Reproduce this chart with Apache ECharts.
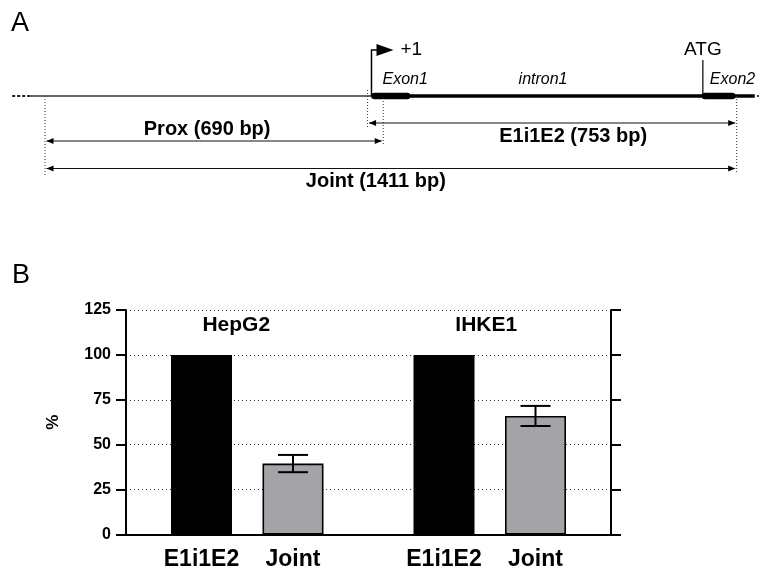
<!DOCTYPE html>
<html>
<head>
<meta charset="utf-8">
<title>E1i1E2 / Joint promoter constructs</title>
<script src="https://cdn.jsdelivr.net/npm/echarts@6/dist/echarts.min.js"></script>
<style>
  html, body { margin: 0; padding: 0; background: #fff; }
  #chart { width: 761px; height: 568px; }
</style>
</head>
<body>
<div id="chart"></div>
<script>
// ---- Panel A: construct map (coordinates in bp, 0 = 5' end of the Joint fragment)
const fragNames = ['Prox', 'E1i1E2', 'Joint'];
const fragStart = [0, 658, 0];
const fragBp = [690, 753, 1411];

const upstreamStart = -31;     // visible start of the flanking sequence
const tssBp = 666;             // transcription start (+1)
const exon1Bp = [666, 745];
const exon2Bp = [1340, 1408];
const atgBp = 1342;
const locusEndBp = 1448;

// ---- Panel B: relative activity (%)
const cellLines = ['HepG2', 'IHKE1'];
const constructs = ['E1i1E2', 'Joint'];
const e1i1e2Values = [100, 100];
const jointValues = [39.5, 66];
const jointErrors = [4.8, 5.6];
const yTicks = [0, 25, 50, 75, 100, 125];

// ---- layout and styles
const FONT = '"Liberation Sans", Arial, Helvetica, sans-serif';
const BAR_WIDTH = 61;
const BAR_GAP = 0.5;
const BAR_OFFSET = (BAR_WIDTH + BAR_WIDTH * BAR_GAP) / 2;
const GREY = '#a4a4a8';

const ROW = { gene: 96, e1i1e2: 123, prox: 141, joint: 168.5 };
const fragRow = [ROW.prox, ROW.e1i1e2, ROW.joint];
const fragLabelDy = [-12, 13, 12.5];
const fragLabelDx = [-7, 21, -15];
// dotted guides at fragment ends: [bp, yTop, yBottom]
const guides = [
  [fragStart[0], 96, 175],
  [fragStart[1], 90, 127],
  [fragStart[0] + fragBp[0], 101, 145],
  [fragStart[2] + fragBp[2], 96, 173]
];

function arrowHead(x, y, dir) {
  const len = 7, half = 3;
  return {
    type: 'polygon',
    shape: { points: [[x, y], [x - dir * len, y - half], [x - dir * len, y + half]] },
    style: { fill: '#000' }
  };
}

function txt(text, x, y, font, align) {
  return {
    type: 'text',
    style: {
      text: text, x: x, y: y, font: font, fill: '#000',
      align: align || 'center', verticalAlign: 'middle',
      textAlign: align || 'center', textVerticalAlign: 'middle'
    }
  };
}

function renderMap(params, api) {
  const X = function (bp) { return api.coord([bp, 0])[0]; };
  const c = [];
  const y0 = ROW.gene;

  // flanking sequence
  c.push({ type: 'line', shape: { x1: X(upstreamStart - 36), y1: y0, x2: X(upstreamStart), y2: y0 },
    style: { stroke: '#222', lineWidth: 2, lineDash: [3, 2] } });
  c.push({ type: 'line', shape: { x1: X(upstreamStart), y1: y0, x2: X(tssBp), y2: y0 },
    style: { stroke: '#333', lineWidth: 1.4 } });
  // transcribed region
  c.push({ type: 'line', shape: { x1: X(tssBp), y1: y0, x2: X(locusEndBp), y2: y0 },
    style: { stroke: '#000', lineWidth: 3.5 } });
  c.push({ type: 'line', shape: { x1: X(locusEndBp + 5), y1: y0, x2: X(locusEndBp + 8), y2: y0 },
    style: { stroke: '#000', lineWidth: 2 } });
  // exons
  [exon1Bp, exon2Bp].forEach(function (e) {
    c.push({ type: 'line', shape: { x1: X(e[0]) + 3, y1: y0, x2: X(e[1]) - 3, y2: y0 },
      style: { stroke: '#000', lineWidth: 6.5, lineCap: 'round' } });
  });

  // transcription start arrow
  const xt = X(tssBp);
  c.push({ type: 'polyline', shape: { points: [[xt, y0], [xt, 50], [xt + 6, 50]] },
    style: { stroke: '#000', lineWidth: 1.5, fill: null } });
  c.push({ type: 'polygon', shape: { points: [[xt + 5, 44], [xt + 22, 50], [xt + 5, 56]] },
    style: { fill: '#000' } });
  c.push(txt('+1', xt + 29, 50, '19px ' + FONT, 'left'));

  // ATG
  const xa = X(atgBp);
  c.push({ type: 'line', shape: { x1: xa, y1: 60, x2: xa, y2: y0 },
    style: { stroke: '#000', lineWidth: 1.2 } });
  c.push(txt('ATG', xa, 50, '19px ' + FONT));

  // feature names
  c.push(txt('Exon1', X(exon1Bp[0]) + 11, 80, 'italic 16px ' + FONT, 'left'));
  c.push(txt('intron1', X((exon1Bp[1] + exon2Bp[0]) / 2) - 13, 80, 'italic 16px ' + FONT));
  c.push(txt('Exon2', X(atgBp) + 7, 80, 'italic 16px ' + FONT, 'left'));

  // dotted guides
  guides.forEach(function (g) {
    c.push({ type: 'line', shape: { x1: X(g[0]), y1: g[1], x2: X(g[0]), y2: g[2] },
      style: { stroke: '#333', lineWidth: 1, lineDash: [1, 2] } });
  });

  // fragments
  fragNames.forEach(function (name, i) {
    const xs = X(fragStart[i]) + 1.5;
    const xe = X(fragStart[i] + fragBp[i]) - 1.5;
    const y = fragRow[i];
    c.push({ type: 'line', shape: { x1: xs, y1: y, x2: xe, y2: y },
      style: { stroke: '#111', lineWidth: 1.2 } });
    c.push(arrowHead(xs, y, -1));
    c.push(arrowHead(xe, y, 1));
    c.push(txt(name + ' (' + fragBp[i] + ' bp)', (xs + xe) / 2 + fragLabelDx[i],
      y + fragLabelDy[i], 'bold 20px ' + FONT));
  });

  return { type: 'group', children: c };
}

function renderErrorBars(params, api) {
  const cat = api.value(0), mean = api.value(1), err = api.value(2);
  const x = api.coord([cat, mean])[0] + BAR_OFFSET;
  const yTop = api.coord([cat, mean + err])[1];
  const yBot = api.coord([cat, mean - err])[1];
  const half = 15;
  const st = { stroke: '#000', lineWidth: 2 };
  return {
    type: 'group',
    children: [
      { type: 'line', shape: { x1: x, y1: yTop, x2: x, y2: yBot }, style: st },
      { type: 'line', shape: { x1: x - half, y1: yTop, x2: x + half, y2: yTop }, style: st },
      { type: 'line', shape: { x1: x - half, y1: yBot, x2: x + half, y2: yBot }, style: st }
    ]
  };
}

const axisLineStyle = { color: '#000', width: 2 };
const barLabel = {
  show: true, position: 'bottom', distance: 14, formatter: '{a}',
  fontFamily: FONT, fontSize: 23, fontWeight: 'bold', color: '#000'
};

const chart = echarts.init(document.getElementById('chart'), null, { renderer: 'canvas' });
chart.setOption({
  animation: false,
  backgroundColor: '#fff',
  graphic: [
    { type: 'text', left: 11, top: 10, style: { text: 'A', font: '27px ' + FONT, fill: '#000' } },
    { type: 'text', left: 12, top: 262, style: { text: 'B', font: '27px ' + FONT, fill: '#000' } }
  ],
  grid: [
    { left: 126, top: 310, width: 485, height: 224.5, containLabel: false },
    { left: 10.7, top: 0, width: 750, height: 200, containLabel: false }
  ],
  xAxis: [
    {
      type: 'category', gridIndex: 0, position: 'bottom', data: cellLines,
      axisLine: { lineStyle: axisLineStyle }, axisTick: { show: false }, axisLabel: { show: false }
    },
    {
      type: 'category', gridIndex: 0, position: 'top',
      data: [
        { value: cellLines[0], textStyle: { padding: [0, 22, 0, 0] } },
        { value: cellLines[1], textStyle: { padding: [0, 7, 0, 0] } }
      ],
      axisLine: { lineStyle: axisLineStyle }, axisTick: { show: false },
      axisLabel: { inside: true, margin: 5, fontFamily: FONT, fontSize: 21, fontWeight: 'bold', color: '#000' }
    },
    { type: 'value', gridIndex: 1, min: -70, max: 1460, show: false }
  ],
  yAxis: [
    {
      type: 'value', gridIndex: 0, min: yTicks[0], max: yTicks[yTicks.length - 1], interval: 25,
      name: '%', nameLocation: 'middle', nameGap: 64, nameRotate: 90,
      nameTextStyle: { fontFamily: FONT, fontSize: 17, fontWeight: 'bold', color: '#000' },
      axisLine: { show: true, lineStyle: axisLineStyle },
      axisTick: { show: true, length: 10, lineStyle: { color: '#000', width: 2 } },
      axisLabel: { margin: 15, fontFamily: FONT, fontSize: 16, fontWeight: 'bold', color: '#000' },
      splitLine: { show: true, lineStyle: { color: '#333', width: 1, type: [1, 3] } }
    },
    {
      type: 'value', gridIndex: 0, position: 'right', min: yTicks[0], max: yTicks[yTicks.length - 1], interval: 25,
      axisLine: { show: true, lineStyle: axisLineStyle },
      axisTick: { show: true, length: 10, lineStyle: { color: '#000', width: 2 } },
      axisLabel: { show: false }, splitLine: { show: false }
    },
    { type: 'value', gridIndex: 1, min: 0, max: 1, show: false }
  ],
  series: [
    {
      name: constructs[0], type: 'bar', xAxisIndex: 0, yAxisIndex: 0,
      data: e1i1e2Values, barWidth: BAR_WIDTH, barGap: (BAR_GAP * 100) + '%',
      itemStyle: { color: '#000' }, label: barLabel
    },
    {
      name: constructs[1], type: 'bar', xAxisIndex: 0, yAxisIndex: 0,
      data: jointValues, barWidth: BAR_WIDTH, barGap: (BAR_GAP * 100) + '%',
      itemStyle: { color: GREY, borderColor: '#000', borderWidth: 1.6 }, label: barLabel
    },
    {
      name: 'error', type: 'custom', xAxisIndex: 0, yAxisIndex: 0, z: 5,
      data: jointValues.map(function (v, i) { return [i, v, jointErrors[i]]; }),
      renderItem: renderErrorBars
    },
    {
      name: 'map', type: 'custom', xAxisIndex: 2, yAxisIndex: 2, clip: false,
      data: [[0, 0]], renderItem: renderMap, silent: true
    }
  ]
});
</script>
</body>
</html>
